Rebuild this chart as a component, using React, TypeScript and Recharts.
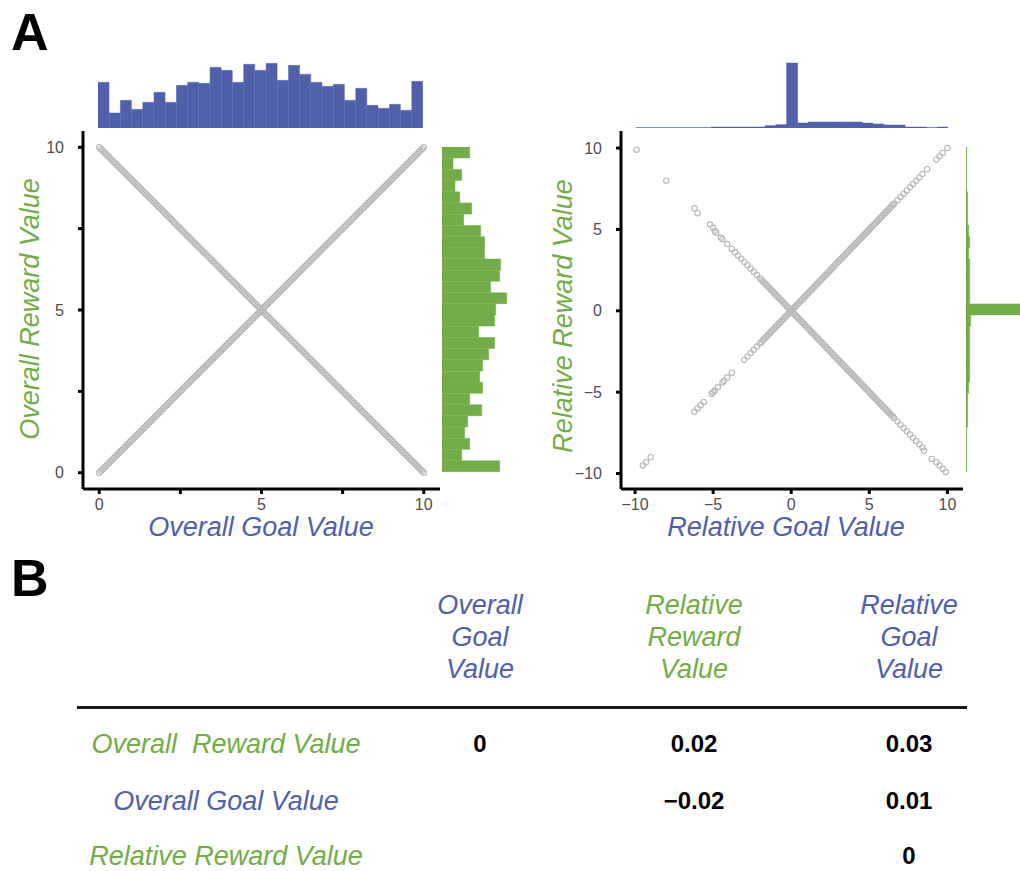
import { ScatterChart, Scatter, XAxis, YAxis, BarChart, Bar } from "recharts";

const FONT = '"Liberation Sans", Arial, Helvetica, sans-serif';
const BLUE = "#5060aa";
const GREEN = "#72ac48";
const DOT = "#b8b8b8";

// marginal histogram counts (29 bins each)
const overallGoalCounts = [137, 45, 83, 56, 77, 107, 77, 128, 137, 134, 182, 173, 137, 191, 173, 194, 143, 188, 161, 137, 125, 131, 83, 119, 68, 59, 71, 53, 140];
// listed top (10) to bottom (0)
const overallRewardCounts = [83, 33, 59, 39, 53, 89, 65, 116, 128, 128, 176, 173, 146, 194, 161, 158, 110, 158, 140, 122, 113, 122, 83, 119, 77, 68, 83, 59, 173];
const relGoalCounts = [1, 1, 1, 1, 1, 1, 1, 3, 3, 3, 3, 3, 7, 10, 195, 15, 18, 18, 18, 18, 18, 15, 12, 9, 9, 3, 3, 1, 3];
// listed top (+10) to bottom (-10)
const relRewardCounts = [2, 2, 2, 2, 5, 5, 5, 8, 11, 8, 11, 11, 11, 11, 195, 14, 11, 11, 11, 11, 11, 8, 5, 5, 5, 2, 2, 2, 2];

// panel 1 points
const overallGoal = [
  0,0.05,0.1,0.15,0.2,0.25,0.3,0.35,0.4,0.45,0.5,0.55,0.6,0.65,0.7,0.75,0.8,0.85,0.9,0.95,
  1,1.05,1.1,1.15,1.2,1.25,1.3,1.35,1.4,1.45,1.5,1.55,1.6,1.65,1.7,1.75,1.8,1.85,1.9,1.95,
  2,2.05,2.1,2.15,2.2,2.25,2.3,2.35,2.4,2.45,2.5,2.55,2.6,2.65,2.7,2.75,2.8,2.85,2.9,2.95,
  3,3.05,3.1,3.15,3.2,3.25,3.3,3.35,3.4,3.45,3.5,3.55,3.6,3.65,3.7,3.75,3.8,3.85,3.9,3.95,
  4,4.05,4.1,4.15,4.2,4.25,4.3,4.35,4.4,4.45,4.5,4.55,4.6,4.65,4.7,4.75,4.8,4.85,4.9,4.95,
  5,5.05,5.1,5.15,5.2,5.25,5.3,5.35,5.4,5.45,5.5,5.55,5.6,5.65,5.7,5.75,5.8,5.85,5.9,5.95,
  6,6.05,6.1,6.15,6.2,6.25,6.3,6.35,6.4,6.45,6.5,6.55,6.6,6.65,6.7,6.75,6.8,6.85,6.9,6.95,
  7,7.05,7.1,7.15,7.2,7.25,7.3,7.35,7.4,7.45,7.5,7.55,7.6,7.65,7.7,7.75,7.8,7.85,7.9,7.95,
  8,8.05,8.1,8.15,8.2,8.25,8.3,8.35,8.4,8.45,8.5,8.55,8.6,8.65,8.7,8.75,8.8,8.85,8.9,8.95,
  9,9.05,9.1,9.15,9.2,9.25,9.3,9.35,9.4,9.45,9.5,9.55,9.6,9.65,9.7,9.75,9.8,9.85,9.9,9.95,
  10,
];
const overallRewardUp = [
  0,0.05,0.1,0.15,0.2,0.25,0.3,0.35,0.4,0.45,0.5,0.55,0.6,0.65,0.7,0.75,0.8,0.85,0.9,0.95,
  1,1.05,1.1,1.15,1.2,1.25,1.3,1.35,1.4,1.45,1.5,1.55,1.6,1.65,1.7,1.75,1.8,1.85,1.9,1.95,
  2,2.05,2.1,2.15,2.2,2.25,2.3,2.35,2.4,2.45,2.5,2.55,2.6,2.65,2.7,2.75,2.8,2.85,2.9,2.95,
  3,3.05,3.1,3.15,3.2,3.25,3.3,3.35,3.4,3.45,3.5,3.55,3.6,3.65,3.7,3.75,3.8,3.85,3.9,3.95,
  4,4.05,4.1,4.15,4.2,4.25,4.3,4.35,4.4,4.45,4.5,4.55,4.6,4.65,4.7,4.75,4.8,4.85,4.9,4.95,
  5,5.05,5.1,5.15,5.2,5.25,5.3,5.35,5.4,5.45,5.5,5.55,5.6,5.65,5.7,5.75,5.8,5.85,5.9,5.95,
  6,6.05,6.1,6.15,6.2,6.25,6.3,6.35,6.4,6.45,6.5,6.55,6.6,6.65,6.7,6.75,6.8,6.85,6.9,6.95,
  7,7.05,7.1,7.15,7.2,7.25,7.3,7.35,7.4,7.45,7.5,7.55,7.6,7.65,7.7,7.75,7.8,7.85,7.9,7.95,
  8,8.05,8.1,8.15,8.2,8.25,8.3,8.35,8.4,8.45,8.5,8.55,8.6,8.65,8.7,8.75,8.8,8.85,8.9,8.95,
  9,9.05,9.1,9.15,9.2,9.25,9.3,9.35,9.4,9.45,9.5,9.55,9.6,9.65,9.7,9.75,9.8,9.85,9.9,9.95,
  10,
];
const overallRewardDown = [
  10,9.95,9.9,9.85,9.8,9.75,9.7,9.65,9.6,9.55,9.5,9.45,9.4,9.35,9.3,9.25,9.2,9.15,9.1,9.05,
  9,8.95,8.9,8.85,8.8,8.75,8.7,8.65,8.6,8.55,8.5,8.45,8.4,8.35,8.3,8.25,8.2,8.15,8.1,8.05,
  8,7.95,7.9,7.85,7.8,7.75,7.7,7.65,7.6,7.55,7.5,7.45,7.4,7.35,7.3,7.25,7.2,7.15,7.1,7.05,
  7,6.95,6.9,6.85,6.8,6.75,6.7,6.65,6.6,6.55,6.5,6.45,6.4,6.35,6.3,6.25,6.2,6.15,6.1,6.05,
  6,5.95,5.9,5.85,5.8,5.75,5.7,5.65,5.6,5.55,5.5,5.45,5.4,5.35,5.3,5.25,5.2,5.15,5.1,5.05,
  5,4.95,4.9,4.85,4.8,4.75,4.7,4.65,4.6,4.55,4.5,4.45,4.4,4.35,4.3,4.25,4.2,4.15,4.1,4.05,
  4,3.95,3.9,3.85,3.8,3.75,3.7,3.65,3.6,3.55,3.5,3.45,3.4,3.35,3.3,3.25,3.2,3.15,3.1,3.05,
  3,2.95,2.9,2.85,2.8,2.75,2.7,2.65,2.6,2.55,2.5,2.45,2.4,2.35,2.3,2.25,2.2,2.15,2.1,2.05,
  2,1.95,1.9,1.85,1.8,1.75,1.7,1.65,1.6,1.55,1.5,1.45,1.4,1.35,1.3,1.25,1.2,1.15,1.1,1.05,
  1,0.95,0.9,0.85,0.8,0.75,0.7,0.65,0.6,0.55,0.5,0.45,0.4,0.35,0.3,0.25,0.2,0.15,0.1,0.05,
  0,
];

// panel 2 points
const relUpGoal = [-9.5,-9.3,-9,-6.2,-6,-5.8,-5.6,-5.1,-5,-4.9,-4.7,-4.4,-4.3,-4.1,-3.8,-3,-2.8,-2.6,-2.4,-2.2,-2,-1.9,-1.8,-1.7,-1.6,-1.5,-1.4,-1.3,-1.2,-1.1,-1,-0.9,-0.8,-0.7,-0.6,-0.5,-0.4,-0.3,-0.2,-0.1,0,0.1,0.2,0.3,0.4,0.5,0.6,0.7,0.8,0.9,1,1.1,1.2,1.3,1.4,1.5,1.6,1.7,1.8,1.9,2,2.1,2.2,2.3,2.4,2.5,2.6,2.7,2.8,2.9,3,3.1,3.2,3.3,3.4,3.5,3.6,3.7,3.8,3.9,4,4.1,4.2,4.3,4.4,4.5,4.6,4.7,4.8,4.9,5,5.1,5.2,5.3,5.4,5.5,5.6,5.7,5.8,5.9,6,6.1,6.2,6.3,6.4,6.5,6.6,6.8,7,7.2,7.4,7.6,7.8,8,8.2,8.4,8.7,9.3,9.5,9.7,10];
const relUpReward = [-9.5,-9.3,-9,-6.2,-6,-5.8,-5.6,-5.1,-5,-4.9,-4.7,-4.4,-4.3,-4.1,-3.8,-3,-2.8,-2.6,-2.4,-2.2,-2,-1.9,-1.8,-1.7,-1.6,-1.5,-1.4,-1.3,-1.2,-1.1,-1,-0.9,-0.8,-0.7,-0.6,-0.5,-0.4,-0.3,-0.2,-0.1,0,0.1,0.2,0.3,0.4,0.5,0.6,0.7,0.8,0.9,1,1.1,1.2,1.3,1.4,1.5,1.6,1.7,1.8,1.9,2,2.1,2.2,2.3,2.4,2.5,2.6,2.7,2.8,2.9,3,3.1,3.2,3.3,3.4,3.5,3.6,3.7,3.8,3.9,4,4.1,4.2,4.3,4.4,4.5,4.6,4.7,4.8,4.9,5,5.1,5.2,5.3,5.4,5.5,5.6,5.7,5.8,5.9,6,6.1,6.2,6.3,6.4,6.5,6.6,6.8,7,7.2,7.4,7.6,7.8,8,8.2,8.4,8.7,9.3,9.5,9.7,10];
const relDownGoal = [-9.9,-8,-6.2,-6,-5.2,-5,-4.9,-4.8,-4.5,-4.4,-4.1,-3.8,-3.6,-3.4,-3.2,-3,-2.8,-2.6,-2.4,-2.2,-2,-1.9,-1.8,-1.7,-1.6,-1.5,-1.4,-1.3,-1.2,-1.1,-1,-0.9,-0.8,-0.7,-0.6,-0.5,-0.4,-0.3,-0.2,-0.1,0,0.1,0.2,0.3,0.4,0.5,0.6,0.7,0.8,0.9,1,1.1,1.2,1.3,1.4,1.5,1.6,1.7,1.8,1.9,2,2.1,2.2,2.3,2.4,2.5,2.6,2.7,2.8,2.9,3,3.1,3.2,3.3,3.4,3.5,3.6,3.7,3.8,3.9,4,4.1,4.2,4.3,4.4,4.5,4.6,4.7,4.8,4.9,5,5.1,5.2,5.3,5.4,5.5,5.6,5.7,5.8,5.9,6,6.1,6.2,6.3,6.4,6.5,6.6,6.8,7,7.2,7.4,7.6,7.8,8,8.2,8.4,8.5,9,9.3,9.5,9.7,9.9];
const relDownReward = [9.9,8,6.3,6,5.3,5.1,4.9,4.8,4.5,4.4,4.1,3.8,3.6,3.4,3.2,3,2.8,2.6,2.4,2.2,2,1.9,1.8,1.7,1.6,1.5,1.4,1.3,1.2,1.1,1,0.9,0.8,0.7,0.6,0.5,0.4,0.3,0.2,0.1,0,-0.1,-0.2,-0.3,-0.4,-0.5,-0.6,-0.7,-0.8,-0.9,-1,-1.1,-1.2,-1.3,-1.4,-1.5,-1.6,-1.7,-1.8,-1.9,-2,-2.1,-2.2,-2.3,-2.4,-2.5,-2.6,-2.7,-2.8,-2.9,-3,-3.1,-3.2,-3.3,-3.4,-3.5,-3.6,-3.7,-3.8,-3.9,-4,-4.1,-4.2,-4.3,-4.4,-4.5,-4.6,-4.7,-4.8,-4.9,-5,-5.1,-5.2,-5.3,-5.4,-5.5,-5.6,-5.7,-5.8,-5.9,-6,-6.1,-6.2,-6.3,-6.4,-6.5,-6.6,-6.8,-7,-7.2,-7.4,-7.6,-7.8,-8,-8.2,-8.4,-8.6,-9.1,-9.3,-9.5,-9.7,-9.9];

const overallTicks = [0, 2.5, 5, 7.5, 10];
const relTicks = [-10, -5, 0, 5, 10];

// correlation table
const colHeads = [["Overall", "Goal", "Value"], ["Relative", "Reward", "Value"], ["Relative", "Goal", "Value"]];
const colHeadColors = [BLUE, GREEN, BLUE];
const rowLabels = ["Overall  Reward Value", "Overall Goal Value", "Relative Reward Value"];
const rowLabelColors = [GREEN, BLUE, GREEN];
const corrValues = [["0", "0.02", "0.03"], ["", "\u22120.02", "0.01"], ["", "", "0"]];

const colX = [480, 694, 909];
const rowY = [744, 801, 856];

const pts = (xs: number[], ys: number[]) => xs.map((x, i) => ({ x, y: ys[i] }));

const ring = (p: any) => <circle cx={p.cx} cy={p.cy} r={2.7} fill="none" stroke={DOT} strokeWidth={1.1} />;

const tickStyle = { fill: "#4d4d4d", fontSize: 16, fontFamily: FONT };
const axisStyle = { stroke: "#000", strokeWidth: 3 };
const none = { top: 0, right: 0, bottom: 0, left: 0 };

const fmtOverall = (v: number) => (v % 5 === 0 ? String(v) : "");
const fmtRel = (v: number) => (v < 0 ? "\u2212" + Math.abs(v) : String(v));

function TopHist({ counts, left, width }: { counts: number[]; left: number; width: number }) {
  const data = counts.map((n, i) => ({ bin: i, n }));
  return (
    <div style={{ position: "absolute", left, top: 62 }}>
      <BarChart width={width} height={66} data={data} margin={none} barCategoryGap={0}>
        <XAxis dataKey="bin" hide />
        <YAxis hide domain={[0, 198]} />
        <Bar dataKey="n" fill={BLUE} stroke={BLUE} strokeWidth={0.5} isAnimationActive={false} />
      </BarChart>
    </div>
  );
}

function SideHist({ counts, left }: { counts: number[]; left: number }) {
  const data = counts.map((n, i) => ({ bin: i, n }));
  return (
    <div style={{ position: "absolute", left, top: 147 }}>
      <BarChart layout="vertical" width={66} height={325} data={data} margin={none} barCategoryGap={0}>
        <XAxis type="number" hide domain={[0, 198]} />
        <YAxis type="category" dataKey="bin" hide />
        <Bar dataKey="n" fill={GREEN} stroke={GREEN} strokeWidth={0.5} isAnimationActive={false} />
      </BarChart>
    </div>
  );
}

// text centred on (x, y); the glyph centre does not depend on lineHeight
function Title({ text, x, y, color, rotate }: { text: string; x: number; y: number; color: string; rotate?: boolean }) {
  return (
    <div
      style={{
        position: "absolute", left: x, top: y, whiteSpace: "pre", lineHeight: 0.75,
        transform: `translate(-50%,-50%)${rotate ? " rotate(-90deg)" : ""}`,
        fontSize: 27, fontStyle: "italic", color,
      }}
    >
      {text}
    </div>
  );
}

export default function App() {
  return (
    <div style={{ position: "relative", width: 1020, height: 871, overflow: "hidden", background: "#fff", fontFamily: FONT }}>
      <style>{"body{margin:0}"}</style>

      <div style={{ position: "absolute", left: 11, top: 6, fontSize: 52, fontWeight: "bold", lineHeight: 1 }}>A</div>

      {/* panel 1 */}
      <div style={{ position: "absolute", left: 0, top: 100 }}>
        <ScatterChart width={460} height={440} margin={{ top: 31, right: 20, bottom: 21, left: 43 }}>
          <XAxis type="number" dataKey="x" domain={[-0.5, 10.5]} ticks={overallTicks} interval={0} tickFormatter={fmtOverall}
            height={30} tick={tickStyle} tickSize={5} tickMargin={5} axisLine={axisStyle} tickLine={axisStyle} />
          <YAxis type="number" dataKey="y" domain={[-0.5, 10.5]} ticks={overallTicks} interval={0} tickFormatter={fmtOverall}
            width={40} tick={tickStyle} tickSize={5} tickMargin={14} axisLine={axisStyle} tickLine={axisStyle} />
          <Scatter data={pts(overallGoal, overallRewardUp)} shape={ring} isAnimationActive={false} />
          <Scatter data={pts(overallGoal, overallRewardDown)} shape={ring} isAnimationActive={false} />
        </ScatterChart>
      </div>
      <TopHist counts={overallGoalCounts} left={98} width={325} />
      <SideHist counts={overallRewardCounts} left={442} />
      <Title text="Overall Goal Value" x={261} y={527} color={BLUE} />
      <Title text="Overall Reward Value" x={30} y={309} color={GREEN} rotate />

      {/* panel 2 */}
      <div style={{ position: "absolute", left: 540, top: 100 }}>
        <ScatterChart width={440} height={440} margin={{ top: 31, right: 17, bottom: 21, left: 41 }}>
          <XAxis type="number" dataKey="x" domain={[-10.9, 11]} ticks={relTicks} interval={0} tickFormatter={fmtRel}
            height={30} tick={tickStyle} tickSize={5} tickMargin={5} axisLine={axisStyle} tickLine={axisStyle} />
          <YAxis type="number" dataKey="y" domain={[-10.95, 11.05]} ticks={relTicks} interval={0} tickFormatter={fmtRel}
            width={40} tick={tickStyle} tickSize={5} tickMargin={14} axisLine={axisStyle} tickLine={axisStyle} />
          <Scatter data={pts(relUpGoal, relUpReward)} shape={ring} isAnimationActive={false} />
          <Scatter data={pts(relDownGoal, relDownReward)} shape={ring} isAnimationActive={false} />
        </ScatterChart>
      </div>
      <TopHist counts={relGoalCounts} left={636} width={312} />
      <SideHist counts={relRewardCounts} left={966} />
      <Title text="Relative Goal Value" x={786} y={527} color={BLUE} />
      <Title text="Relative Reward Value" x={563} y={316} color={GREEN} rotate />

      {/* B: correlation table */}
      <div style={{ position: "absolute", left: 11, top: 552, fontSize: 52, fontWeight: "bold", lineHeight: 1 }}>B</div>
      {colHeads.map((lines, c) => (
        <div key={c} style={{ position: "absolute", left: colX[c] - 100, top: 589, width: 200, textAlign: "center",
          fontSize: 27, fontStyle: "italic", lineHeight: "32px", color: colHeadColors[c] }}>
          {lines.map((l) => <div key={l}>{l}</div>)}
        </div>
      ))}
      <div style={{ position: "absolute", left: 77, top: 706, width: 890, height: 3, background: "#1a1a1a" }} />
      {rowLabels.map((l, r) => (
        <div key={l} style={{ position: "absolute", left: 26, top: rowY[r] - 12, width: 400, textAlign: "center",
          fontSize: 27, fontStyle: "italic", lineHeight: "24px", whiteSpace: "pre", color: rowLabelColors[r] }}>
          {l}
        </div>
      ))}
      {corrValues.map((row, r) =>
        row.map((v, c) => (v ? (
          <div key={`${r}-${c}`} style={{ position: "absolute", left: colX[c] - 60, top: rowY[r] - 12, width: 120, textAlign: "center",
            fontSize: 24, fontWeight: "bold", lineHeight: "24px", color: "#000" }}>
            {v}
          </div>
        ) : null))
      )}
    </div>
  );
}
